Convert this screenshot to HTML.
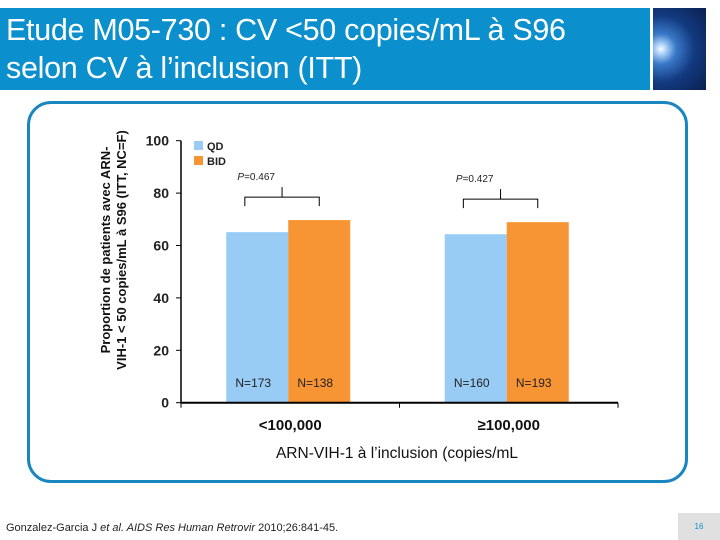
<!DOCTYPE html>
<html><head><meta charset="utf-8"><style>
body{margin:0;width:720px;height:540px;background:#fff;position:relative;overflow:hidden;font-family:"Liberation Sans",sans-serif}
.abs{position:absolute}
</style></head><body>
<div class="abs" style="left:0;top:8px;width:650px;height:82px;background:#0b8fcd"></div>
<div class="abs" style="left:6px;top:11px;color:#fff;font-size:30.5px;line-height:38px;letter-spacing:-0.3px">Etude M05-730 : CV &lt;50 copies/mL à S96<br>selon CV à l’inclusion (ITT)</div>
<div class="abs" style="left:653px;top:8px;width:53px;height:82px;background:radial-gradient(circle at 15% 50%,#fff 0,#bfe0ff 6%,#3a78c8 25%,#123a80 55%,#0b1f50 100%)"></div>
<div class="abs" style="left:27px;top:101px;width:655px;height:376px;border:3px solid #1a86c0;border-radius:24px"></div>
<svg class="abs" style="left:0;top:0" width="720" height="540">
<g id="g"></g>
</svg>
<div class="abs" style="left:6px;top:522px;font-size:11px;color:#222">Gonzalez-Garcia J <i>et al. AIDS Res Human Retrovir</i> 2010;26:841-45.</div>
<div class="abs" style="left:678px;top:513px;width:42px;height:27px;background:#e0e0e0;color:#0b8fcd;font-size:8px;text-align:center;line-height:27px">16</div>
<script>
const categories=["<100,000","≥100,000"];
const qdValues=[65.1,64.3];
const bidValues=[69.7,68.9];
const qdN=["N=173","N=160"];
const bidN=["N=138","N=193"];
const pValues=["=0.467","=0.427"];
const yTicks=[0,20,40,60,80,100];
const NS="http://www.w3.org/2000/svg";
const g=document.getElementById('g');
const x0=181,x1=618,y0=402.7,y100=140.7;
const y=v=>y0-(v/100)*(y0-y100);
const gw=(x1-x0)/categories.length;
const bw=62;
function el(t,a,txt){const e=document.createElementNS(NS,t);for(const k in a)e.setAttribute(k,a[k]);if(txt!==undefined)e.textContent=txt;g.appendChild(e);return e;}
let e=el('line',{x1:x0,x2:x0,y1:y100,y2:y0,stroke:'#000','stroke-width':1.5});

yTicks.forEach(t=>{
 let l=el('line',{x1:x0-5,x2:x0,y1:y(t),y2:y(t),stroke:'#000'});
 
 let tx=el('text',{x:x0-12,y:y(t)+5,'text-anchor':'end','font-size':14,'font-weight':'bold',fill:'#222'},t);
 
});
categories.forEach((c,i)=>{
 const cx=x0+gw*(i+0.5)-2;
 let b=el('rect',{x:cx-bw,y:y(qdValues[i]),width:bw,height:y0-y(qdValues[i]),fill:'#99ccf5'});
 
 b=el('rect',{x:cx,y:y(bidValues[i]),width:bw,height:y0-y(bidValues[i]),fill:'#f79433'});
 
 let t=el('text',{x:cx-bw/2-4,y:387,'text-anchor':'middle','font-size':12,fill:'#222'},qdN[i]);
 
 t=el('text',{x:cx+bw/2-4,y:387,'text-anchor':'middle','font-size':12,fill:'#222'},bidN[i]);
 
 t=el('text',{x:cx+2,y:430,'text-anchor':'middle','font-size':15,'font-weight':'bold',fill:'#111'},c);
 
 const by=y(Math.max(qdValues[i],bidValues[i]))-23,lx=cx-bw*0.7,rx=cx+bw*0.5;
 let p=el('path',{d:`M${lx} ${by+9}V${by}H${rx}V${by+9}M${(lx+rx)/2} ${by}V${by-10}`,stroke:'#000',fill:'none'});
 
 t=el('text',{x:cx-bw*0.82,y:by-17,'font-size':10,fill:'#222'});
 t.innerHTML='<tspan font-style="italic">P</tspan>'+pValues[i];
 
});
e=el('line',{x1:x0,x2:x1,y1:y0,y2:y0,stroke:'#000','stroke-width':2});

[x0,x0+gw,x1].forEach(xx=>{let l=el('line',{x1:xx,x2:xx,y1:y0,y2:y0+5,stroke:'#000'});});
[['QD','#99ccf5',150],['BID','#f79433',165]].forEach(([n,c,yy])=>{
 let r=el('rect',{x:194,y:yy-9,width:9,height:9,fill:c});
 let t=el('text',{x:207,y:yy,'font-size':11,'font-weight':'bold',fill:'#222'},n);
});
let t=el('text',{x:397,y:458,'text-anchor':'middle','font-size':15.5,fill:'#111'},'ARN-VIH-1 à l’inclusion (copies/mL');

t=el('text',{transform:'translate(110,250) rotate(-90)','text-anchor':'middle','font-size':13,'font-weight':'bold',fill:'#111'});
t.innerHTML='<tspan x="0" dy="0">Proportion de patients avec ARN-</tspan><tspan x="0" dy="16">VIH-1 &lt; 50 copies/mL à S96 (ITT, NC=F)</tspan>';

</script>
</body></html>
